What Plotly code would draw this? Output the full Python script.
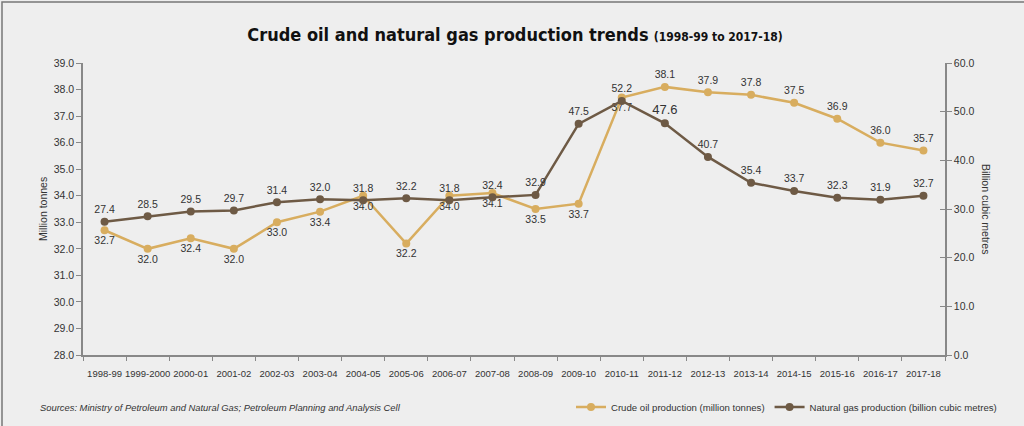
import plotly.graph_objects as go

years = ["1998-99", "1999-2000", "2000-01", "2001-02", "2002-03", "2003-04", "2004-05",
         "2005-06", "2006-07", "2007-08", "2008-09", "2009-10", "2010-11", "2011-12",
         "2012-13", "2013-14", "2014-15", "2015-16", "2016-17", "2017-18"]
crude_oil = [32.7, 32.0, 32.4, 32.0, 33.0, 33.4, 34.0, 32.2, 34.0, 34.1, 33.5, 33.7,
             37.7, 38.1, 37.9, 37.8, 37.5, 36.9, 36.0, 35.7]
natural_gas = [27.4, 28.5, 29.5, 29.7, 31.4, 32.0, 31.8, 32.2, 31.8, 32.4, 32.9, 47.5,
               52.2, 47.6, 40.7, 35.4, 33.7, 32.3, 31.9, 32.7]

OIL = "#d8ad5f"
GAS = "#6e5a45"
BG = "#eeeeee"
TXT = "#333333"
FONT = "Liberation Sans, Arial, sans-serif"

L, R, T, B = 83, 945, 63, 355
PW, PH = R - L, B - T


def px(x):
    return (x - L) / PW


def py(y):
    return (B - y) / PH


oil_pos = ["bottom center" if i <= 12 else "top center" for i in range(len(years))]
gas_pos = ["top center"] * len(years)
gas_size = [10.5] * len(years)
gas_size[years.index("2011-12")] = 13

fig = go.Figure()
fig.add_trace(go.Scatter(
    x=years, y=crude_oil, name="Crude oil production (million tonnes)",
    mode="lines+markers+text", text=[f"{v:.1f}" for v in crude_oil],
    textposition=oil_pos, textfont=dict(family=FONT, size=10.5, color=TXT),
    line=dict(color=OIL, width=2.5), marker=dict(color=OIL, size=8),
    yaxis="y", cliponaxis=False))
fig.add_trace(go.Scatter(
    x=years, y=natural_gas, name="Natural gas production (billion cubic metres)",
    mode="lines+markers+text", text=[f"{v:.1f}" for v in natural_gas],
    textposition=gas_pos, textfont=dict(family=FONT, size=gas_size, color=TXT),
    line=dict(color=GAS, width=2.5), marker=dict(color=GAS, size=8),
    yaxis="y2", cliponaxis=False))

axis_common = dict(showgrid=False, zeroline=False, showline=True,
                   linecolor="#888888", linewidth=1.5, tickcolor="#888888")

fig.update_layout(
    width=1024, height=426,
    paper_bgcolor=BG, plot_bgcolor=BG,
    margin=dict(l=L, r=1024 - R, t=T, b=426 - B, autoexpand=False),
    font=dict(family=FONT, size=11, color=TXT),
    title=dict(
        text="<b>Crude oil and natural gas production trends</b> "
             "<span style='font-size:12px'><b>(1998-99 to 2017-18)</b></span>",
        x=0.503, xanchor="center", y=1 - 35 / 426, yanchor="middle",
        font=dict(family="DejaVu Sans Condensed, DejaVu Sans, sans-serif", size=18,
                  color="#111111")),
    xaxis=dict(
        type="category", range=[-0.5, len(years) - 0.5], tickangle=0,
        ticks="outside", tickson="boundaries", ticklen=4, ticklabelstandoff=9,
        tickfont=dict(family=FONT, size=9.5, color=TXT), **axis_common),
    yaxis=dict(
        range=[28, 39], dtick=1, tickformat=".1f",
        ticks="outside", ticklen=5,
        tickfont=dict(family=FONT, size=10.5, color=TXT), **axis_common),
    yaxis2=dict(
        range=[0, 60], dtick=10, tickformat=".1f", overlaying="y", side="right",
        ticks="outside", ticklen=5,
        tickfont=dict(family=FONT, size=10.5, color=TXT), **axis_common),
    yaxis3=dict(
        range=[0, 60], dtick=10, overlaying="y", side="right", showticklabels=False,
        showgrid=False, zeroline=False, showline=False,
        ticks="inside", ticklen=5, tickcolor="#888888"),
    showlegend=True,
    legend=dict(orientation="h", x=px(571), xanchor="left", y=py(407), yanchor="middle",
                bgcolor="rgba(0,0,0,0)", font=dict(family=FONT, size=9.6, color=TXT),
                itemwidth=30, tracegroupgap=0),
    annotations=[
        dict(text="Million tonnes", textangle=-90, xref="paper", yref="paper",
             x=px(43), y=0.5, xanchor="center", yanchor="middle",
             showarrow=False, font=dict(family=FONT, size=10.5, color=TXT)),
        dict(text="Billion cubic metres", textangle=90, xref="paper", yref="paper",
             x=px(986), y=0.5, xanchor="center", yanchor="middle",
             showarrow=False, font=dict(family=FONT, size=10.5, color=TXT)),
        dict(text="<i>Sources: Ministry of Petroleum and Natural Gas; Petroleum Planning and Analysis Cell</i>",
             xref="paper", yref="paper", x=px(38), y=py(407),
             xanchor="left", yanchor="middle", showarrow=False,
             font=dict(family=FONT, size=9.4, color=TXT)),
    ],
    shapes=[dict(type="rect", xref="paper", yref="paper",
                 x0=px(2), x1=1.3, y0=-0.5, y1=py(2),
                 line=dict(color="#777777", width=1.5), fillcolor="rgba(0,0,0,0)", layer="below")],
)

# invisible trace to activate the inner tick marks on the right axis
fig.add_trace(go.Scatter(x=[years[0]], y=[0], yaxis="y3", mode="markers",
                         marker=dict(opacity=0), showlegend=False, hoverinfo="skip"))

fig.write_html("out.html", config={"displayModeBar": False},
               post_script="document.body.style.margin='0';document.body.style.overflow='hidden';")
